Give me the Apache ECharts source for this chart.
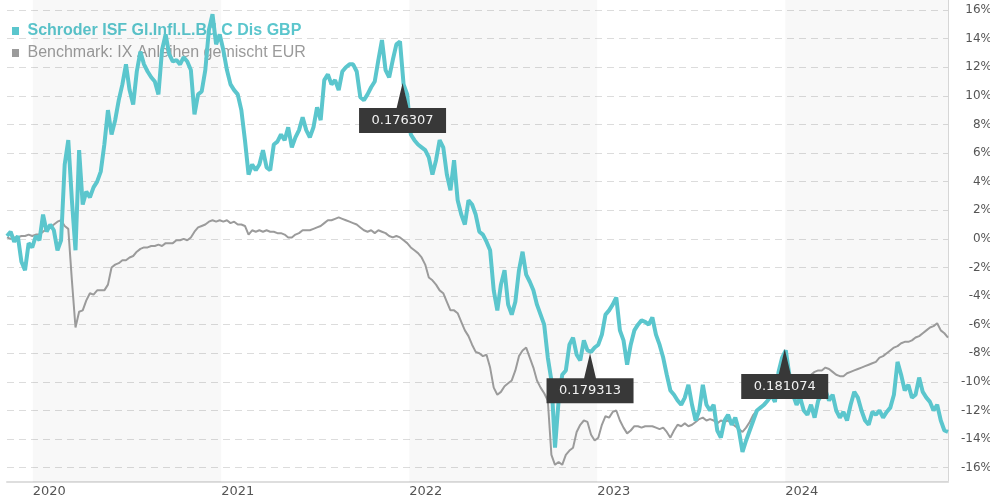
<!DOCTYPE html>
<html>
<head>
<meta charset="utf-8">
<script src="https://cdn.jsdelivr.net/npm/echarts@6/dist/echarts.min.js"></script>
<style>
  html, body { margin: 0; padding: 0; background: #fff; }
  #chart { width: 990px; height: 500px; }
</style>
</head>
<body>
<div id="chart"></div>
<script>
// weekly performance in %, first point on 12 Nov 2019
const fundName = 'Schroder ISF Gl.Infl.L.Bd C Dis GBP';
const benchName = 'Benchmark: IX Anleihen gemischt EUR';

const fundPerf = [
  0.2, 0.5, -0.2, 0.2, -1.6, -2.2, -0.3, -0.6, 0.2, -0.1,
  1.7, 0.5, 1.0, 0.6, -0.8, -0.1, 5.2, 6.9, 2.7, -0.8,
  6.2, 2.4, 3.3, 2.9, 3.6, 4.0, 4.7, 6.6, 9.0, 7.3,
  8.3, 9.7, 10.8, 12.2, 10.4, 9.4, 11.7, 13.1, 12.2, 11.7,
  11.3, 11.0, 10.1, 13.2, 14.3, 12.9, 12.4, 12.5, 12.2, 12.7,
  12.4, 11.8, 8.7, 10.1, 10.3, 11.8, 14.6, 15.7, 13.6, 14.3,
  13.2, 11.8, 10.8, 10.4, 10.1, 9.0, 6.9, 4.5, 5.2, 4.8,
  5.2, 6.2, 5.0, 4.8, 6.6, 6.8, 7.3, 6.9, 7.8, 6.4,
  7.1, 7.6, 8.5, 7.6, 7.1, 7.8, 9.2, 8.3, 11.1, 11.5,
  10.8, 11.1, 10.4, 11.7, 12.0, 12.2, 12.2, 11.7, 9.9, 9.7,
  10.1, 10.6, 11.0, 12.5, 13.9, 11.8, 11.3, 12.5, 13.6, 13.8,
  10.8, 10.1, 7.3, 6.9, 6.6, 6.4, 6.2, 5.7, 4.5, 5.5,
  6.9, 6.4, 4.5, 3.4, 5.5, 2.7, 1.7, 1.0, 2.7, 2.4,
  1.7, 0.5, 0.3, -0.2, -0.8, -3.6, -5.0, -3.2, -2.2, -4.6,
  -5.3, -4.4, -2.2, -0.9, -2.5, -3.0, -3.6, -4.6, -5.3, -6.0,
  -8.3, -9.9, -14.6, -11.3, -9.5, -9.2, -7.4, -6.9, -8.1, -8.5,
  -7.1, -7.8, -7.9, -7.6, -7.4, -6.7, -5.3, -5.0, -4.6, -4.1,
  -6.4, -7.1, -8.8, -7.4, -6.4, -6.0, -5.7, -5.8, -6.0, -5.5,
  -6.7, -7.4, -8.3, -9.5, -10.6, -10.9, -11.3, -11.6, -11.1, -10.2,
  -11.6, -12.7, -12.0, -10.2, -11.6, -12.0, -11.6, -13.4, -13.9, -12.7,
  -12.3, -13.0, -12.5, -13.4, -14.9, -14.1, -13.4, -12.7, -12.0, -11.8,
  -11.6, -11.3, -10.9, -11.4, -9.3, -8.3, -7.8, -9.5, -10.9, -11.6,
  -11.1, -12.0, -12.3, -11.6, -12.5, -11.3, -10.9, -10.6, -11.3, -10.9,
  -12.0, -12.5, -12.1, -12.7, -11.6, -10.7, -11.1, -12.0, -12.7, -13.0,
  -12.1, -12.3, -12.0, -12.5, -12.1, -11.8, -10.9, -8.6, -9.5, -10.6,
  -10.2, -11.1, -10.9, -9.7, -10.7, -11.1, -11.4, -12.0, -11.6, -12.7,
  -13.4, -13.5
];

const benchPerf = [
  0.1, 0.0, 0.1, 0.1, 0.2, 0.2, 0.3, 0.2, 0.3, 0.3,
  0.5, 0.7, 0.8, 1.0, 1.2, 1.3, 0.9, 0.7, -2.9, -6.2,
  -5.1, -5.0, -4.3, -3.8, -3.9, -3.6, -3.6, -3.6, -3.2, -2.0,
  -1.8, -1.7, -1.5, -1.5, -1.3, -1.2, -0.9, -0.7, -0.6, -0.6,
  -0.5, -0.5, -0.4, -0.5, -0.3, -0.3, -0.3, -0.1, -0.1, 0.0,
  -0.1, 0.1, 0.5, 0.8, 0.9, 1.0, 1.2, 1.3, 1.2, 1.3,
  1.2, 1.3, 1.1, 1.2, 1.0, 1.0, 0.9, 0.3, 0.6, 0.5,
  0.6, 0.5, 0.6, 0.5, 0.5, 0.4, 0.4, 0.3, 0.1, 0.1,
  0.3, 0.4, 0.6, 0.6, 0.6, 0.7, 0.8, 0.9, 1.1, 1.3,
  1.3, 1.4, 1.5, 1.4, 1.3, 1.2, 1.1, 1.0, 0.8, 0.6,
  0.5, 0.6, 0.4, 0.6, 0.5, 0.4, 0.2, 0.1, 0.2, 0.1,
  -0.1, -0.3, -0.6, -0.8, -1.0, -1.3, -1.8, -2.7, -2.9, -3.2,
  -3.6, -3.8, -4.4, -5.0, -5.0, -5.2, -5.8, -6.4, -6.8, -7.4,
  -7.9, -8.0, -8.2, -8.1, -9.0, -10.4, -10.9, -10.7, -10.3, -10.1,
  -9.9, -9.2, -8.2, -7.8, -7.6, -8.3, -9.0, -9.9, -10.4, -10.8,
  -11.3, -15.1, -15.8, -15.6, -15.8, -15.1, -14.8, -14.6, -13.5, -13.0,
  -12.7, -12.8, -13.7, -14.1, -13.9, -13.0, -12.4, -12.5, -12.1, -12.0,
  -12.7, -13.2, -13.6, -13.4, -13.1, -13.1, -13.2, -13.1, -13.1, -13.1,
  -13.2, -13.3, -13.2, -13.5, -13.9, -13.4, -13.0, -13.1, -12.9, -13.1,
  -13.0, -12.8, -12.6, -12.5, -12.7, -12.6, -12.7, -12.9, -12.7, -12.8,
  -12.7, -12.9, -13.1, -13.3, -13.5, -13.2, -12.8, -12.3, -12.0, -11.8,
  -11.5, -11.3, -11.1, -11.0, -10.7, -10.2, -9.9, -9.7, -9.9, -9.7,
  -9.7, -9.9, -9.7, -9.5, -9.3, -9.2, -9.2, -9.0, -9.1, -9.3,
  -9.5, -9.6, -9.6, -9.4, -9.3, -9.2, -9.1, -9.0, -8.9, -8.8,
  -8.7, -8.6, -8.3, -8.2, -8.0, -7.8, -7.6, -7.5, -7.3, -7.2,
  -7.2, -7.1, -6.9, -6.8, -6.6, -6.4, -6.2, -6.1, -5.9, -6.4,
  -6.6, -6.9
];

const yTicks = [-16, -14, -12, -10, -8, -6, -4, -2, 0, 2, 4, 6, 8, 10, 12, 14, 16];
const yearStarts = ['2020-01-01', '2021-01-01', '2022-01-01', '2023-01-01', '2024-01-01'];
const shadedYears = [
  ['2020-01-01', '2021-01-01'],
  ['2022-01-01', '2023-01-01'],
  ['2024-01-01', '2024-11-12']
];
const dividends = [
  {date: '2021-12-19', perf: 10.9, amount: '0.176307'},
  {date: '2022-12-18', perf: -8.0, amount: '0.179313'},
  {date: '2023-12-31', perf: -7.7, amount: '0.181074'}
];

const tealColor = '#5bc6cd';
const greyColor = '#9b9b9b';

function toTime(s) {
  return new Date(s + 'T00:00:00').getTime();
}

let weeks = [];
for (let i = 0; i < fundPerf.length; i++) {
  weeks.push(new Date(2019, 10, 12 + 7 * i).getTime());
}

let fundData = [];
let benchData = [];
for (let i = 0; i < weeks.length; i++) {
  fundData.push([weeks[i], fundPerf[i]]);
  benchData.push([weeks[i], benchPerf[i]]);
}

let myEcharts = echarts.init(document.getElementById('chart'));
let option = {
  animation: false,
  grid: {left: 7, right: 42, top: 0, bottom: 18, outerBoundsMode: 'none', containLabel: false},
  legend: {
    orient: 'vertical',
    left: 7,
    top: 18,
    z: 1,
    itemWidth: 14,
    itemHeight: 8,
    itemGap: 6,
    icon: 'path://M0 0H7V8H0Z',
    selectedMode: false,
    textStyle: {fontFamily: 'Liberation Sans, Arial, sans-serif', fontSize: 16},
    data: [
      {name: fundName, textStyle: {color: tealColor, fontWeight: 'bold'}},
      {name: benchName, textStyle: {color: greyColor}}
    ]
  },
  xAxis: {
    type: 'value',
    min: weeks[0],
    max: weeks[weeks.length - 1],
    axisLine: {show: true, onZero: false, lineStyle: {color: '#dedede', width: 2}},
    axisTick: {show: false, customValues: yearStarts.map(toTime)},
    splitLine: {show: false},
    axisLabel: {
      customValues: yearStarts.map(toTime),
      formatter: function (v) { return String(new Date(v).getFullYear()); },
      align: 'left',
      margin: 3,
      color: '#555',
      fontFamily: 'DejaVu Sans',
      fontSize: 13
    }
  },
  yAxis: {
    type: 'value',
    position: 'right',
    min: -17,
    max: 16.7,
    axisLine: {show: true, lineStyle: {color: '#d6d6d6'}},
    axisTick: {show: false, customValues: yTicks},
    axisLabel: {
      customValues: yTicks,
      formatter: function (v) { return v + '%'; },
      align: 'right',
      margin: 44,
      color: '#555',
      fontFamily: 'DejaVu Sans',
      fontSize: 12
    },
    splitLine: {show: true, lineStyle: {color: '#dcdcdc', type: [7, 5]}}
  },
  series: [
    {
      name: benchName,
      type: 'line',
      z: 3,
      data: benchData,
      showSymbol: false,
      symbol: 'none',
      color: greyColor,
      lineStyle: {color: greyColor, width: 2},
      markArea: {
        silent: true,
        itemStyle: {color: 'rgba(0,0,0,0.028)'},
        data: shadedYears.map(function (p) {
          return [{xAxis: toTime(p[0])}, {xAxis: toTime(p[1])}];
        })
      }
    },
    {
      name: fundName,
      type: 'line',
      z: 4,
      data: fundData,
      showSymbol: false,
      symbol: 'none',
      color: tealColor,
      lineStyle: {color: tealColor, width: 4},
      markPoint: {
        symbol: 'path://M44 0L50 25H88V50H0V25H38Z',
        symbolSize: [87, 50],
        symbolOffset: [0, 25],
        itemStyle: {color: '#383838'},
        label: {
          show: true,
          position: ['50%', '75%'],
          align: 'center',
          verticalAlign: 'middle',
          color: '#f2f2f2',
          fontFamily: 'DejaVu Sans',
          fontSize: 13,
          formatter: '{b}'
        },
        data: dividends.map(function (d) {
          return {name: d.amount, coord: [toTime(d.date), d.perf]};
        })
      }
    }
  ]
};
myEcharts.setOption(option);
</script>
</body>
</html>
